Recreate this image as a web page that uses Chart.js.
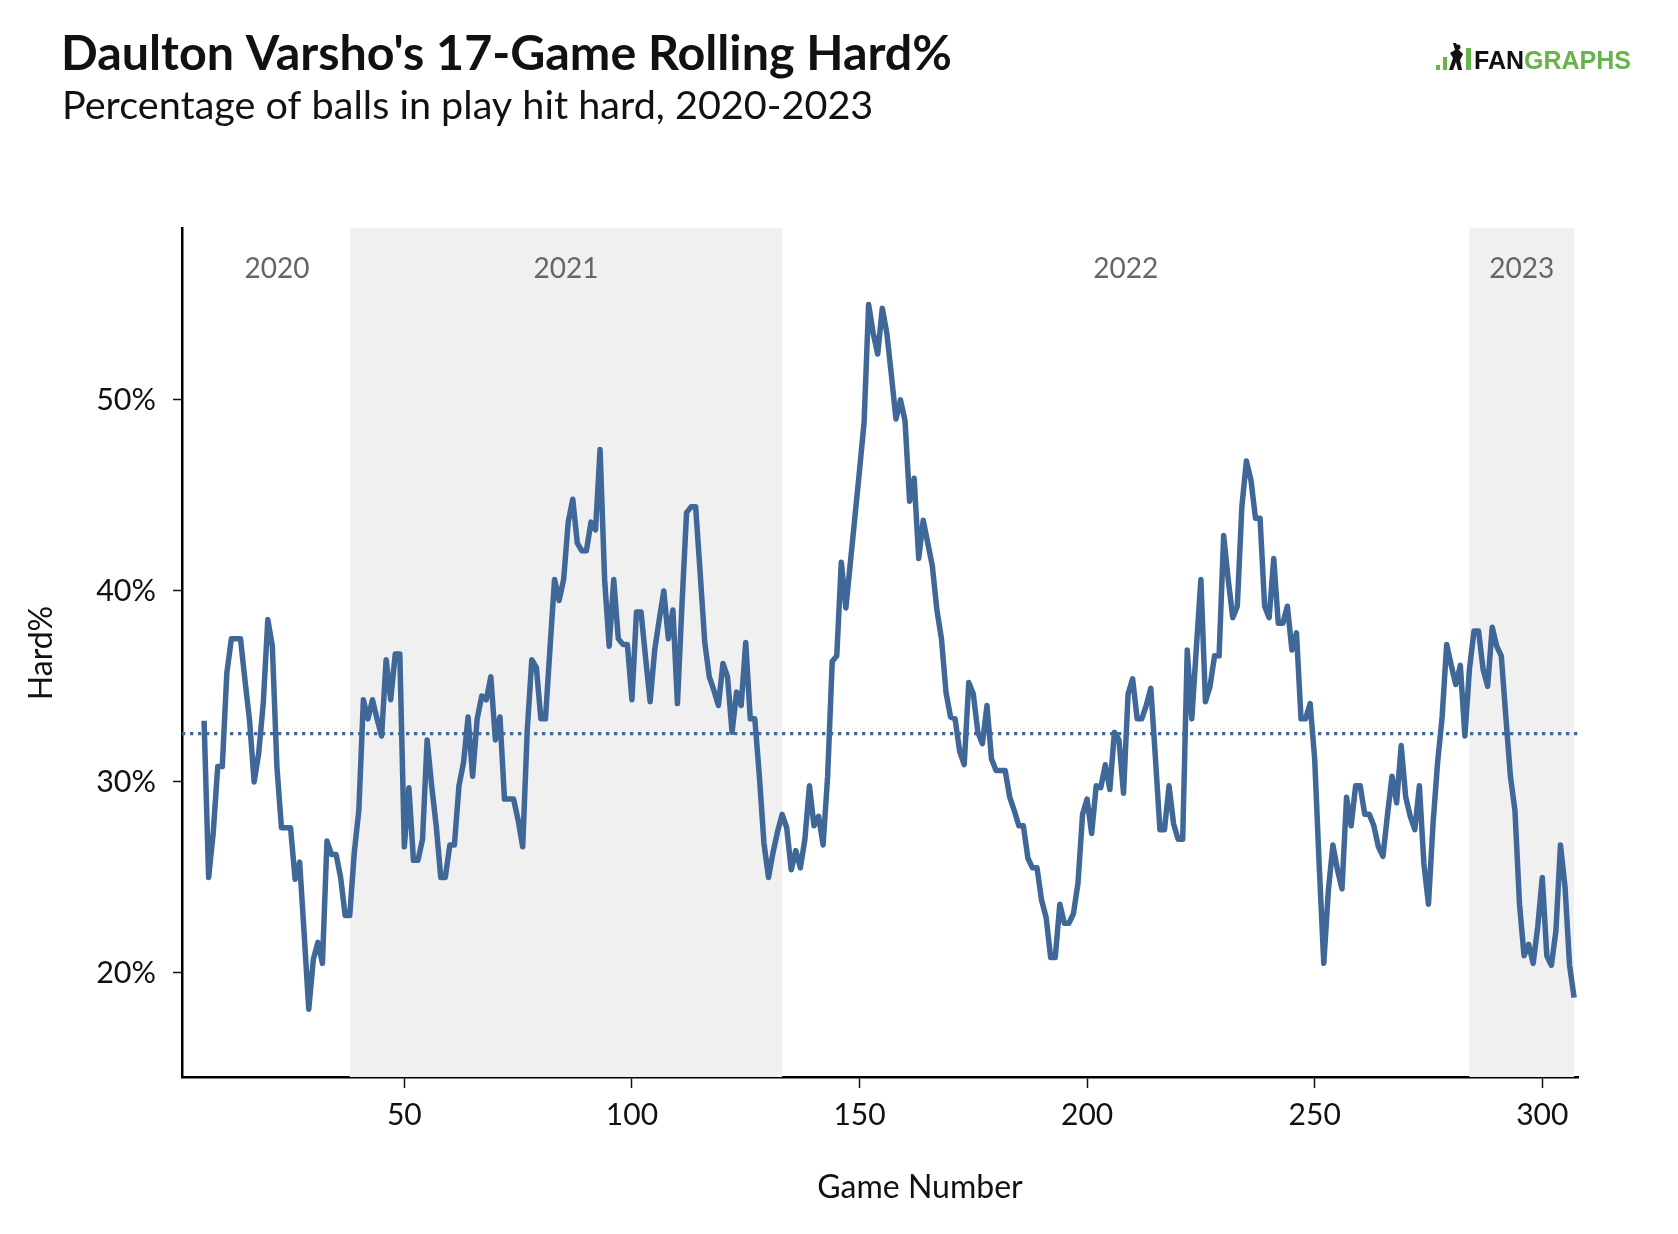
<!DOCTYPE html>
<html>
<head>
<meta charset="utf-8">
<script src="https://cdn.jsdelivr.net/npm/chart.js@4.4.1/dist/chart.umd.min.js"></script>
<style>
  html, body { margin: 0; padding: 0; background: #fff; }
  #wrap { width: 1678px; height: 1234px; }
</style>
</head>
<body>
<div id="wrap"><canvas id="hardChart" width="1678" height="1234"></canvas></div>
<script>
/* =========================
   DATA
========================= */
const firstGame = 6;

// 17-game rolling Hard%, one value per game starting at firstGame
const hardPct = [
    33.2, 25.0, 27.3, 30.8, 30.8, 35.7, 37.5, 37.5, 37.5, 35.3,
    33.2, 30.0, 31.5, 34.1, 38.5, 37.1, 30.8, 27.6, 27.6, 27.6,
    24.9, 25.8, 22.0, 18.1, 20.7, 21.6, 20.5, 26.9, 26.2, 26.2,
    25.0, 23.0, 23.0, 26.3, 28.5, 34.3, 33.3, 34.3, 33.3, 32.4,
    36.4, 34.3, 36.7, 36.7, 26.6, 29.7, 25.9, 25.9, 27.0, 32.2,
    29.8, 27.7, 25.0, 25.0, 26.7, 26.7, 29.8, 31.0, 33.4, 30.3,
    33.3, 34.5, 34.3, 35.5, 32.2, 33.4, 29.1, 29.1, 29.1, 28.0,
    26.6, 32.7, 36.4, 36.0, 33.3, 33.3, 37.0, 40.6, 39.5, 40.6,
    43.6, 44.8, 42.5, 42.1, 42.1, 43.6, 43.2, 47.4, 40.6, 37.1,
    40.6, 37.5, 37.2, 37.2, 34.3, 38.9, 38.9, 36.5, 34.2, 36.9,
    38.5, 40.0, 37.5, 39.0, 34.1, 39.3, 44.1, 44.4, 44.4, 40.9,
    37.3, 35.5, 34.8, 34.0, 36.2, 35.5, 32.6, 34.7, 34.0, 37.3,
    33.3, 33.3, 30.3, 26.8, 25.0, 26.3, 27.4, 28.3, 27.6, 25.4,
    26.4, 25.5, 27.0, 29.8, 27.7, 28.2, 26.7, 30.3, 36.3, 36.6,
    41.5, 39.1, 41.5, 43.9, 46.3, 48.8, 55.0, 53.5, 52.4, 54.8,
    53.5, 51.3, 49.0, 50.0, 48.9, 44.7, 45.9, 41.7, 43.7, 42.5,
    41.3, 39.0, 37.5, 34.7, 33.4, 33.3, 31.6, 30.9, 35.2, 34.6,
    32.6, 32.0, 34.0, 31.2, 30.6, 30.6, 30.6, 29.2, 28.5, 27.7,
    27.7, 26.0, 25.5, 25.5, 23.8, 22.9, 20.8, 20.8, 23.6, 22.6,
    22.6, 23.1, 24.7, 28.3, 29.1, 27.3, 29.8, 29.7, 30.9, 29.6,
    32.6, 32.2, 29.4, 34.6, 35.4, 33.3, 33.3, 34.0, 34.9, 31.3,
    27.5, 27.5, 29.8, 27.8, 27.0, 27.0, 36.9, 33.3, 37.0, 40.6,
    34.2, 35.0, 36.6, 36.6, 42.9, 40.6, 38.6, 39.2, 44.4, 46.8,
    45.8, 43.8, 43.8, 39.2, 38.6, 41.7, 38.3, 38.3, 39.2, 36.9,
    37.8, 33.3, 33.3, 34.1, 31.2, 25.6, 20.5, 24.3, 26.7, 25.4,
    24.4, 29.2, 27.7, 29.8, 29.8, 28.3, 28.3, 27.7, 26.6, 26.1,
    28.3, 30.3, 28.9, 31.9, 29.2, 28.2, 27.5, 29.8, 25.7, 23.6,
    27.8, 31.0, 33.4, 37.2, 36.1, 35.1, 36.1, 32.4, 35.9, 37.9,
    37.9, 35.9, 35.0, 38.1, 37.1, 36.6, 33.4, 30.3, 28.5, 23.6,
    20.9, 21.5, 20.5, 22.4, 25.0, 20.9, 20.4, 22.2, 26.7, 24.5,
    20.4, 18.7
];

const meanHardPct = 32.53;

const xTicks = [50, 100, 150, 200, 250, 300];
const yTicks = [20, 30, 40, 50];

const seasonLabels = ["2020", "2021", "2022", "2023"];
const seasonStart  = [6, 38, 133, 284];
const seasonEnd    = [38, 133, 284, 307];
const seasonShaded = [false, true, false, true];

/* =========================
   STYLE
========================= */
const LINE_COLOR = "#3f6797";
const SHADE_COLOR = "#f0f0f0";
const FONT = "Lato";

/* =========================
   PLUGIN: BACKGROUND, SEASONS, TEXT
========================= */
const decorPlugin = {
    id: "decor",
    beforeDraw(chart) {
        const { ctx, width, height } = chart;
        ctx.save();
        ctx.fillStyle = "#ffffff";
        ctx.fillRect(0, 0, width, height);
        ctx.restore();
    },
    beforeDatasetsDraw(chart) {
        const { ctx, chartArea } = chart;
        const x = chart.scales.x;
        ctx.save();
        ctx.fillStyle = SHADE_COLOR;
        seasonLabels.forEach((_, i) => {
            if (!seasonShaded[i]) return;
            const x0 = x.getPixelForValue(seasonStart[i]);
            const x1 = x.getPixelForValue(seasonEnd[i]);
            ctx.fillRect(x0, chartArea.top, x1 - x0, chartArea.bottom - chartArea.top);
        });

        // season labels
        ctx.fillStyle = "#666666";
        ctx.font = `28px ${FONT}`;
        ctx.textAlign = "center";
        ctx.textBaseline = "middle";
        seasonLabels.forEach((lab, i) => {
            const mid = (seasonStart[i] + seasonEnd[i]) / 2;
            ctx.fillText(lab, x.getPixelForValue(mid), 269);
        });
        ctx.restore();
    },
    afterDraw(chart) {
        const { ctx } = chart;
        ctx.save();

        // titles
        ctx.fillStyle = "#111111";
        ctx.textAlign = "left";
        ctx.textBaseline = "alphabetic";
        ctx.font = `bold 48.4px ${FONT}`;
        ctx.fillText("Daulton Varsho's 17-Game Rolling Hard%", 61, 70);
        ctx.font = `39.6px ${FONT}`;
        ctx.fillText("Percentage of balls in play hit hard, 2020-2023", 62, 119);

        // axis titles
        ctx.font = `32px ${FONT}`;
        ctx.textAlign = "center";
        ctx.textBaseline = "middle";
        ctx.fillText("Game Number", 920, 1188);
        ctx.translate(42, 653);
        ctx.rotate(-Math.PI / 2);
        ctx.fillText("Hard%", 0, 0);
        ctx.restore();

        // logo
        ctx.save();
        const green = "#69b34c";
        ctx.fillStyle = green;
        ctx.fillRect(1436, 65, 4, 5);
        ctx.fillRect(1443, 57, 4, 13);
        ctx.fillRect(1466, 48, 5, 22);
        ctx.fillStyle = "#111111";
        ctx.beginPath();
        ctx.moveTo(1449, 70);
        ctx.lineTo(1453, 58);
        ctx.lineTo(1450, 53);
        ctx.lineTo(1455, 50);
        ctx.lineTo(1453, 43);
        ctx.lineTo(1456, 43);
        ctx.lineTo(1459, 50);
        ctx.lineTo(1463, 54);
        ctx.lineTo(1460, 60);
        ctx.lineTo(1462, 70);
        ctx.lineTo(1458, 70);
        ctx.lineTo(1456, 62);
        ctx.lineTo(1453, 70);
        ctx.closePath();
        ctx.fill();
        ctx.beginPath();
        ctx.arc(1458, 47, 2.5, 0, Math.PI * 2);
        ctx.fill();

        ctx.textAlign = "left";
        ctx.textBaseline = "alphabetic";
        ctx.font = "bold 25px 'Liberation Sans'";
        ctx.fillStyle = "#111111";
        ctx.fillText("FAN", 1474, 69);
        const w = ctx.measureText("FAN").width;
        ctx.fillStyle = green;
        ctx.fillText("GRAPHS", 1474 + w, 69);
        ctx.restore();
    }
};

/* =========================
   CHART
========================= */
const points = hardPct.map((v, i) => ({ x: firstGame + i, y: v }));

new Chart(document.getElementById("hardChart").getContext("2d"), {
    type: "line",
    data: {
        datasets: [
            {
                data: points,
                borderColor: LINE_COLOR,
                borderWidth: 5.5,
                pointRadius: 0,
                tension: 0,
                borderJoinStyle: "round",
                fill: false
            },
            {
                data: [{ x: 1.15, y: meanHardPct }, { x: 307.85, y: meanHardPct }],
                borderColor: LINE_COLOR,
                borderWidth: 3.3,
                borderDash: [3.3, 4.7],
                pointRadius: 0,
                fill: false
            }
        ]
    },
    options: {
        responsive: false,
        animation: false,
        devicePixelRatio: 1,
        layout: { padding: { left: 0, top: 228, right: 100, bottom: 0 } },
        plugins: {
            legend: { display: false },
            tooltip: { enabled: false }
        },
        scales: {
            x: {
                type: "linear",
                min: 1.15,
                max: 307.85,
                afterBuildTicks: s => { s.ticks = xTicks.map(v => ({ value: v })); },
                afterFit: s => { s.height = 1234 - 1077; },
                ticks: {
                    color: "#111111",
                    font: { family: FONT, size: 30 },
                    padding: 9,
                    maxRotation: 0
                },
                grid: {
                    drawOnChartArea: false,
                    drawTicks: true,
                    tickLength: 11,
                    tickColor: "#111111",
                    tickWidth: 1.5
                },
                border: { display: true, color: "#000000", width: 2.5 }
            },
            y: {
                min: 14.55,
                max: 59.0,
                afterBuildTicks: s => { s.ticks = yTicks.map(v => ({ value: v })); },
                afterFit: s => { s.width = 182; },
                ticks: {
                    color: "#111111",
                    font: { family: FONT, size: 30.5 },
                    padding: 17,
                    callback: v => v + "%"
                },
                grid: {
                    drawOnChartArea: false,
                    drawTicks: true,
                    tickLength: 9,
                    tickColor: "#111111",
                    tickWidth: 1.5
                },
                border: { display: true, color: "#000000", width: 2.5 }
            }
        }
    },
    plugins: [decorPlugin]
});
</script>
</body>
</html>
